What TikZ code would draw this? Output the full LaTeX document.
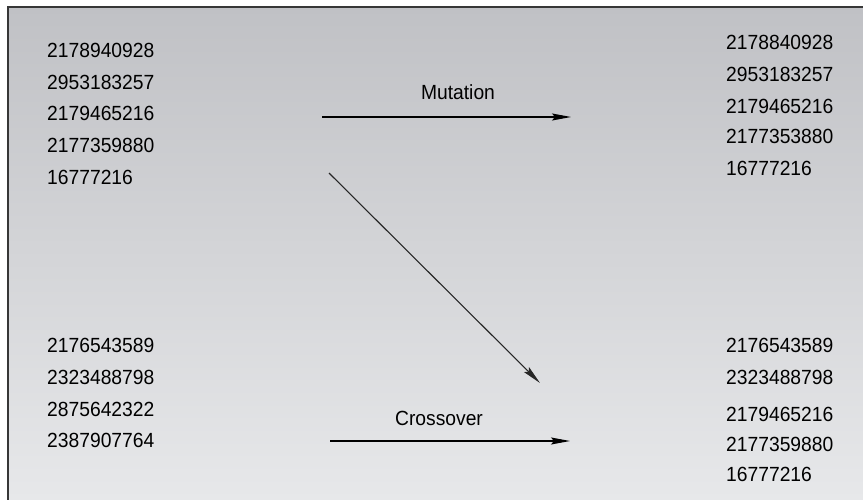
\documentclass[tikz,border=0pt]{standalone}
\usepackage{fontspec}
\setmainfont{Liberation Sans}[FakeStretch=0.94]
\usetikzlibrary{arrows.meta}

\definecolor{frameGray}{RGB}{55,55,55}
\definecolor{bgTop}{RGB}{192,193,197}
\definecolor{bgBottom}{RGB}{231,232,234}

\tikzset{
  num/.style={anchor=west, inner sep=0pt, font=\fontsize{20.5}{24}\selectfont},
  oplabel/.style={inner sep=0pt, font=\fontsize{20.5}{24}\selectfont},
  oparrow/.style={line width=1.1pt, -{Stealth[length=19pt,width=7pt,inset=3pt]}}
}

\begin{document}
\begin{tikzpicture}[x=1pt,y=-1pt]
\useasboundingbox (0,0) rectangle (863,500);

\shade[top color=bgTop, bottom color=bgBottom] (8,7) rectangle (863,500); % background
\draw[line width=2pt, color=frameGray] (8,500) -- (8,7) -- (863,7); % frame

\node[num] (popA1) at (47,50) {2178940928}; % parent pool
\node[num] (popA2) at (47,82) {2953183257};
\node[num] (popA3) at (47,113.5) {2179465216};
\node[num] (popA4) at (47,145) {2177359880};
\node[num] (popA5) at (47,177) {16777216};

\node[num] (popB1) at (47,345.5) {2176543589}; % second pool
\node[num] (popB2) at (47,377.5) {2323488798};
\node[num] (popB3) at (47,409) {2875642322};
\node[num] (popB4) at (47,440) {2387907764};

\node[num] (mutA1) at (726,42) {2178840928}; % after mutation
\node[num] (mutA2) at (726,74) {2953183257};
\node[num] (mutA3) at (726,106) {2179465216};
\node[num] (mutA4) at (726,136) {2177353880};
\node[num] (mutA5) at (726,168.5) {16777216};

\node[num] (crossB1) at (726,345.5) {2176543589}; % after crossover
\node[num] (crossB2) at (726,377) {2323488798};
\node[num] (crossB3) at (726,414) {2179465216};
\node[num] (crossB4) at (726,444) {2177359880};
\node[num] (crossB5) at (726,474) {16777216};

\node[oplabel] (mutLabel) at (458,92.5) {Mutation};
\node[oplabel] (crossLabel) at (439,418) {Crossover};

\coordinate (mutStart) at (322,117);
\coordinate (mutEnd) at (571,117);
\coordinate (diagStart) at (329,173);
\coordinate (diagEnd) at (540,383);
\coordinate (crossStart) at (330,441);
\coordinate (crossEnd) at (570,441);

\draw[oparrow] (mutStart) -- (mutEnd); % mutation
\draw[oparrow, color=black!85] (diagStart) -- (diagEnd); % into crossover
\draw[oparrow] (crossStart) -- (crossEnd); % crossover
\end{tikzpicture}
\end{document}
